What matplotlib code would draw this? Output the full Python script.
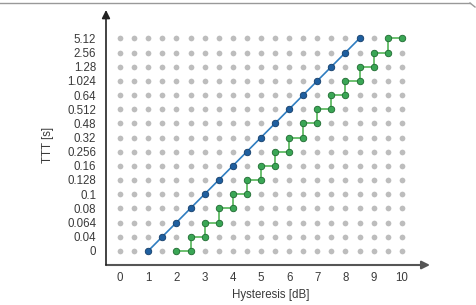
import matplotlib
matplotlib.use("Agg")
import matplotlib.pyplot as plt
import numpy as np
from matplotlib.lines import Line2D

plt.rcParams['font.family'] = ['Liberation Sans', 'DejaVu Sans']

# Data
ttt_labels = ["0", "0.04", "0.064", "0.08", "0.1", "0.128", "0.16", "0.256",
              "0.32", "0.48", "0.512", "0.64", "1.024", "1.28", "2.56", "5.12"]
x_ticks = [0, 1, 2, 3, 4, 5, 6, 7, 8, 9, 10]
hyst_grid = [0, 0.5, 1, 1.5, 2, 2.5, 3, 3.5, 4, 4.5, 5, 5.5, 6, 6.5, 7, 7.5, 8, 8.5, 9, 9.5, 10]

blue_x = [1, 1.5, 2, 2.5, 3, 3.5, 4, 4.5, 5, 5.5, 6, 6.5, 7, 7.5, 8, 8.5]
blue_y = [0, 1, 2, 3, 4, 5, 6, 7, 8, 9, 10, 11, 12, 13, 14, 15]

green_x = [2, 2.5, 2.5, 3, 3, 3.5, 3.5, 4, 4, 4.5, 4.5, 5, 5, 5.5, 5.5, 6, 6, 6.5,
           6.5, 7, 7, 7.5, 7.5, 8, 8, 8.5, 8.5, 9, 9, 9.5, 9.5, 10]
green_y = [0, 0, 1, 1, 2, 2, 3, 3, 4, 4, 5, 5, 6, 6, 7, 7, 8, 8,
           9, 9, 10, 10, 11, 11, 12, 12, 13, 13, 14, 14, 15, 15]

fig = plt.figure(figsize=(4.77, 3.05), dpi=100)
ax = fig.add_axes([106/477, 40/305, 324/477, 255/305])
ax.set_xlim(-0.5, 11)
ax.set_ylim(-1, 17)

gx, gy = np.meshgrid(hyst_grid, np.arange(len(ttt_labels)))
ax.scatter(gx.ravel(), gy.ravel(), s=17, color='#bdbdbd', linewidths=0, zorder=1)

ax.plot(blue_x, blue_y, color='#2f7dc0', lw=1.2, zorder=2)
ax.scatter(blue_x, blue_y, s=22, color='#1f5f9f', edgecolors='#163f6a', linewidths=0.6, zorder=3)

ax.plot(green_x, green_y, color='#6cc070', lw=1.4, zorder=2)
ax.scatter(green_x, green_y, s=22, color='#3aa655', edgecolors='#1f6b32', linewidths=0.6, zorder=3)

for s in ax.spines.values():
    s.set_visible(False)

ax.set_yticks(range(len(ttt_labels)))
ax.set_yticklabels(ttt_labels)
ax.set_xticks(x_ticks)
ax.tick_params(axis='both', length=0, labelsize=8.3, colors='#3a3a3a')
ax.tick_params(axis='y', pad=7)
ax.tick_params(axis='x', pad=5)

ax.set_xlabel("Hysteresis [dB]", fontsize=8.3, color='#3a3a3a', labelpad=2)
ax.xaxis.set_label_coords(0.51, -0.095)
ax.set_ylabel("TTT [s]", fontsize=8.3, color='#3a3a3a')
ax.yaxis.set_label_coords(-0.16, 0.47)

# Axis arrows
ax.annotate("", xy=(1.0, 0), xytext=(0, 0), xycoords='axes fraction',
            arrowprops=dict(arrowstyle='-|>', color='#555555', lw=1.5,
                            mutation_scale=12, shrinkA=0, shrinkB=0))
ax.annotate("", xy=(0, 1.0), xytext=(0, 0), xycoords='axes fraction',
            arrowprops=dict(arrowstyle='-|>', color='#222222', lw=1.2,
                            mutation_scale=12, shrinkA=0, shrinkB=0))

# top border line of frame
fig.add_artist(Line2D([0, 470/477], [1 - 3/305, 1 - 3/305], color='#999999', lw=1.0,
                      transform=fig.transFigure))
fig.add_artist(Line2D([470/477, 475/477], [1 - 3/305, 1 - 7/305], color='#999999', lw=1.0,
                      transform=fig.transFigure))

fig.savefig("out.png", dpi=100)
